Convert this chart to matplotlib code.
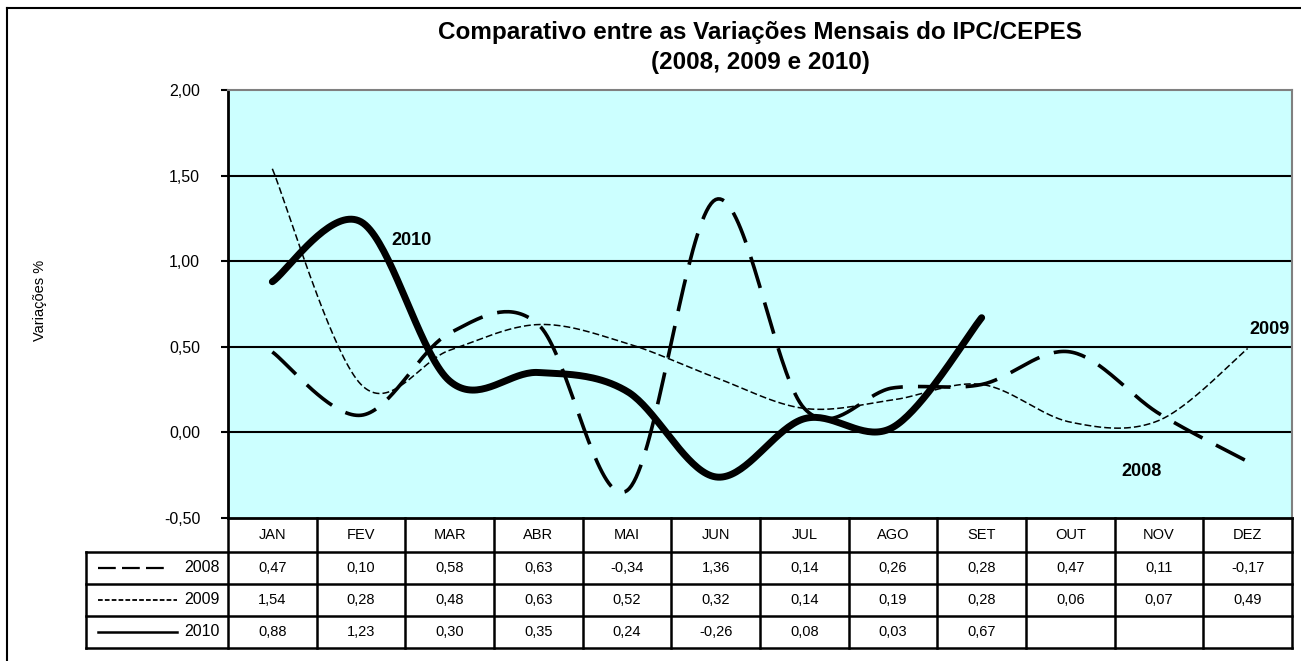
import numpy as np
import matplotlib
matplotlib.use("Agg")
import matplotlib.pyplot as plt
from matplotlib.lines import Line2D

plt.rcParams["font.family"] = ["Liberation Sans", "DejaVu Sans"]

MONTHS = ["JAN", "FEV", "MAR", "ABR", "MAI", "JUN", "JUL", "AGO", "SET", "OUT", "NOV", "DEZ"]
V2008 = [0.47, 0.10, 0.58, 0.63, -0.34, 1.36, 0.14, 0.26, 0.28, 0.47, 0.11, -0.17]
V2009 = [1.54, 0.28, 0.48, 0.63, 0.52, 0.32, 0.14, 0.19, 0.28, 0.06, 0.07, 0.49]
V2010 = [0.88, 1.23, 0.30, 0.35, 0.24, -0.26, 0.08, 0.03, 0.67]
YEARS = ["2008", "2009", "2010"]
Y_TICKS = [-0.5, 0.0, 0.5, 1.0, 1.5, 2.0]

STYLES = {
    "2008": dict(lw=2.6, dashes=(9, 4.2)),
    "2009": dict(lw=1.1, dashes=(4.5, 2)),
    "2010": dict(lw=5.0, dashes=()),
}
LEGEND_STYLES = {
    "2008": dict(lw=1.6, dashes=(8, 2.8)),
    "2009": dict(lw=1.3, dashes=(2.6, 1.2)),
    "2010": dict(lw=1.8, dashes=()),
}


def smooth(values, n=40):
    # Excel-like smoothing: cubic bezier with catmull-rom control points
    y = np.asarray(values, dtype=float)
    x = np.arange(len(y), dtype=float)
    pts = np.column_stack([x, y])
    out = []
    for i in range(len(pts) - 1):
        p0 = pts[i - 1] if i > 0 else pts[i]
        p1, p2 = pts[i], pts[i + 1]
        p3 = pts[i + 2] if i + 2 < len(pts) else pts[i + 1]
        c1 = p1 + (p2 - p0) / 6
        c2 = p2 - (p3 - p1) / 6
        t = np.linspace(0, 1, n)[:, None]
        seg = (1 - t) ** 3 * p1 + 3 * (1 - t) ** 2 * t * c1 + 3 * (1 - t) * t ** 2 * c2 + t ** 3 * p2
        out.append(seg if i == 0 else seg[1:])
    seg = np.vstack(out)
    return seg[:, 0], seg[:, 1]


def fmt(v):
    return f"{v:.2f}".replace(".", ",")


W, H = 1301, 661
fig = plt.figure(figsize=(W / 100, H / 100), dpi=100)
L, R, T, B = 228, 1292, 90, 518
ax = fig.add_axes([L / W, 1 - B / H, (R - L) / W, (B - T) / H])
ax.set_facecolor("#CCFFFF")

series = {"2008": V2008, "2009": V2009, "2010": V2010}
for year in YEARS:
    xs, ys = smooth(series[year])
    st = STYLES[year]
    ax.plot(xs, ys, color="black", lw=st["lw"], dashes=st["dashes"],
            solid_capstyle="round", dash_capstyle="butt", zorder=3)

ax.set_xlim(-0.5, 11.5)
ax.set_ylim(-0.5, 2.0)
ax.set_yticks(Y_TICKS)
ax.set_yticklabels([fmt(v) for v in Y_TICKS], fontsize=11.5)
ax.tick_params(axis="y", direction="out", length=5, width=1.5, pad=15)
ax.set_xticks([])
for v in Y_TICKS[1:-1]:
    ax.axhline(v, color="black", lw=1.5, zorder=2)
for side in ["top", "right"]:
    ax.spines[side].set_color("#808080")
    ax.spines[side].set_linewidth(1.5)
ax.spines["left"].set_linewidth(2)
ax.spines["bottom"].set_linewidth(2)

# series labels
lab = dict(fontsize=13, fontweight="bold", ha="center", va="center")
ax.text(1.575, 1.12, "2010", **lab)
ax.text(11.25, 0.60, "2009", **lab)
ax.text(9.8, -0.23, "2008", **lab)

# data table below the plot
ph = B - T
hdr = 34 / ph
row = 32 / ph
tr = ax.get_xaxis_transform()
leg_x0 = (86 - L) / (R - L)

y_hdr = -hdr / 2
for i, m in enumerate(MONTHS):
    ax.text(i, y_hdr, m, transform=tr, ha="center", va="center", fontsize=10.5, clip_on=False)

for r, year in enumerate(YEARS):
    yc = -hdr - row * (r + 0.5)
    vals = series[year]
    for i, v in enumerate(vals):
        ax.text(i, yc, fmt(v), transform=tr, ha="center", va="center", fontsize=10.5, clip_on=False)
    st = LEGEND_STYLES[year]
    lx0 = (98 - L) / (R - L)
    lx1 = ((167 if year == "2008" else 177) - L) / (R - L)
    ax.add_line(Line2D([lx0, lx1], [yc, yc], transform=ax.transAxes, color="black",
                       lw=st["lw"], dashes=st["dashes"], clip_on=False))
    ax.text((220 - L) / (R - L), yc, year, transform=ax.transAxes, ha="right", va="center",
            fontsize=11.5, clip_on=False)

bottom = -hdr - 3 * row
lk = dict(color="black", lw=1.8, clip_on=False)
for i in range(13):
    xv = i - 0.5
    ax.add_line(Line2D([xv, xv], [0, bottom], transform=tr, **lk))
for yv in [-hdr, -hdr - row, -hdr - 2 * row, bottom]:
    ax.add_line(Line2D([leg_x0, 1], [yv, yv], transform=ax.transAxes, **lk))
ax.add_line(Line2D([leg_x0, leg_x0], [-hdr, bottom], transform=ax.transAxes, **lk))

# titles
fig.text(760 / W, 1 - 32 / H, "Comparativo entre as Variações Mensais do IPC/CEPES",
         ha="center", va="center", fontsize=17.5, fontweight="bold")
fig.text(760 / W, 1 - 63 / H, "(2008, 2009 e 2010)",
         ha="center", va="center", fontsize=17.5, fontweight="bold")
fig.text(40 / W, 1 - 300 / H, "Variações %", rotation=90, ha="center", va="center", fontsize=10.5)

# outer chart border
fig.add_artist(Line2D([7 / W, 1], [1 - 8 / H, 1 - 8 / H], transform=fig.transFigure, color="black", lw=1.5))
fig.add_artist(Line2D([7 / W, 7 / W], [0, 1 - 8 / H], transform=fig.transFigure, color="black", lw=1.5))

fig.savefig("out.png", dpi=100)
